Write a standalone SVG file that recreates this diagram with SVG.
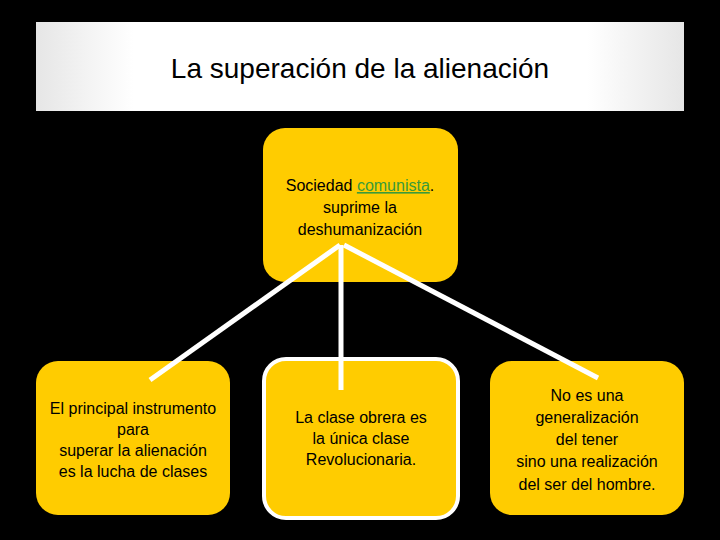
<svg xmlns="http://www.w3.org/2000/svg" width="720" height="540" viewBox="0 0 720 540">
<defs>
<linearGradient id="tg" x1="0" y1="0" x2="1" y2="0">
<stop offset="0" stop-color="#e6e6e6"/><stop offset="0.15" stop-color="#ffffff"/><stop offset="0.85" stop-color="#ffffff"/><stop offset="1" stop-color="#e6e6e6"/>
</linearGradient>
</defs>
<style>
.n{fill:#FFCC00}
.t{font-family:"Liberation Sans",Arial,sans-serif;font-size:16px;fill:#000;text-anchor:middle}
.c{stroke:#fff;stroke-width:5;fill:none}
</style>
<rect width="720" height="540" fill="#000"/>
<g id="title">
<rect x="36" y="22" width="648" height="89" fill="url(#tg)"/>
<text x="360" y="78" font-family="Liberation Sans,Arial,sans-serif" font-size="28" text-anchor="middle">La superación de la alienación</text>
</g>
<g id="top">
<rect class="n" x="263" y="128" width="195" height="154" rx="22"/>
<text class="t" x="360" y="191">Sociedad <tspan fill="#3a9a3a" text-decoration="underline">comunista</tspan>.</text>
<text class="t" x="360" y="213">suprime la</text>
<text class="t" x="360" y="235">deshumanización</text>
</g>
<g id="left">
<rect class="n" x="36" y="361" width="194" height="154" rx="22"/>
<text class="t" x="133" y="414">El principal instrumento</text>
<text class="t" x="133" y="435">para</text>
<text class="t" x="133" y="456">superar la alienación</text>
<text class="t" x="133" y="477">es la lucha de clases</text>
</g>
<g id="middle">
<rect class="n" x="264" y="359" width="194" height="159" rx="22" stroke="#fff" stroke-width="4"/>
<text class="t" x="361" y="423">La clase obrera es</text>
<text class="t" x="361" y="444">la única clase</text>
<text class="t" x="361" y="465">Revolucionaria.</text>
</g>
<g id="right">
<rect class="n" x="490" y="361" width="194" height="154" rx="22"/>
<text class="t" x="587" y="401">No es una</text>
<text class="t" x="587" y="423">generalización</text>
<text class="t" x="587" y="445">del tener</text>
<text class="t" x="587" y="467">sino una realización</text>
<text class="t" x="587" y="490">del ser del hombre.</text>
</g>
<g id="connectors">
<line class="c" x1="340" y1="245" x2="150" y2="380"/>
<line class="c" x1="341" y1="245" x2="341" y2="390"/>
<line class="c" x1="344" y1="245" x2="598" y2="378"/>
</g>
</svg>
